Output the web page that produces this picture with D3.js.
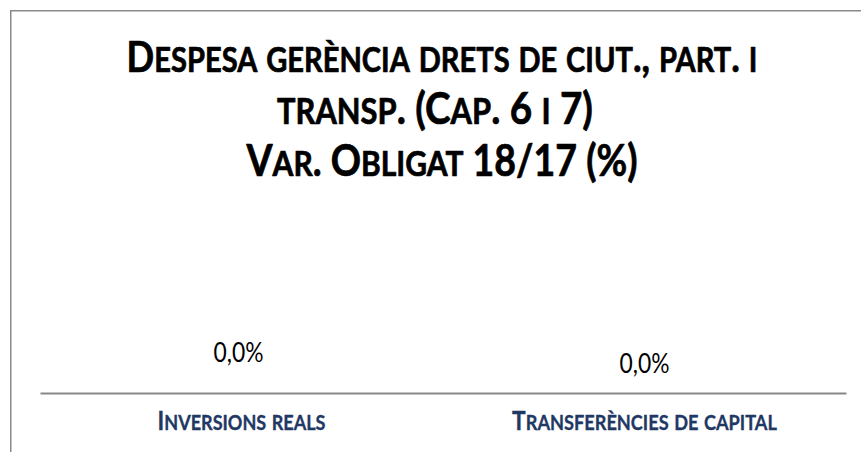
<!DOCTYPE html>
<html>
<head>
<meta charset="utf-8">
<script src="https://cdn.jsdelivr.net/npm/d3@7"></script>
<style>
  html, body { margin: 0; padding: 0; background: #ffffff; }
  svg { display: block; }
  text { font-family: Lato, "Open Sans", sans-serif; }
</style>
</head>
<body>
<svg id="chart" width="861" height="452"></svg>
<script>
// Chart content
const titleLines = [
  "Despesa gerència drets de ciut., part. i",
  "transp. (Cap. 6 i 7)",
  "Var. Obligat 18/17 (%)"
];
const categories = ["Inversions reals", "Transferències de capital"];
const values = [0.0, 0.0];            // variation obligat 18/17, in %
const valueLabels = ["0,0%", "0,0%"];

// Layout
const plot = { left: 40, right: 846, top: 200, bottom: 393 };
const stretch = 1.15;                 // vertical stretch for the narrow humanist look
const svg = d3.select("#chart");

// Outer chart frame (continues past the visible area on right and bottom)
svg.append("rect")
  .attr("x", 10.75).attr("y", 10.75)
  .attr("width", 900).attr("height", 600)
  .attr("fill", "#ffffff")
  .attr("stroke", "#8a8a8a")
  .attr("stroke-width", 1.5);

// Writes a string as small caps: capitals and symbols at full size,
// lowercase letters as reduced-size capitals.
function smallCaps(textSel, str, size, ratio) {
  textSel.selectAll("tspan").remove();
  const runs = [];
  for (const ch of str) {
    const small = ch !== ch.toUpperCase();
    const last = runs[runs.length - 1];
    if (last && last.small === small) last.s += ch;
    else runs.push({ small, s: ch });
  }
  runs.forEach(r => {
    textSel.append("tspan")
      .attr("font-size", r.small ? size * ratio : size)
      .text(r.small ? r.s.toUpperCase() : r.s);
  });
}

// Sizes a small-caps text so that it spans the given width
function fitSmallCaps(textSel, str, width, ratio) {
  let size = 20;
  smallCaps(textSel, str, size, ratio);
  const w = textSel.node().getComputedTextLength();
  size = size * width / w;
  smallCaps(textSel, str, size, ratio);
  return size;
}

// Text group anchored at (cx, baseline), stretched vertically
function anchoredText(cx, base) {
  return svg.append("g")
    .attr("transform", `translate(${cx},${base}) scale(1,${stretch})`)
    .append("text")
    .attr("text-anchor", "middle");
}

// Title
const titleSpec = [
  { cx: 442, base: 72, width: 631 },
  { cx: 435, base: 124, width: 316 },
  { cx: 442, base: 176, width: 391 }
];
titleLines.forEach((line, i) => {
  const t = anchoredText(titleSpec[i].cx, titleSpec[i].base)
    .attr("font-weight", 700)
    .attr("fill", "#000000")
    .attr("stroke", "#000000")
    .attr("stroke-width", 0.6)
    .attr("stroke-linejoin", "round");
  fitSmallCaps(t, line, titleSpec[i].width, 0.8);
});

// Scales
const x = d3.scaleBand()
  .domain(categories)
  .range([plot.left, plot.right])
  .paddingInner(0)
  .paddingOuter(0);

const y = d3.scaleLinear()
  .domain([0, 1])
  .range([plot.bottom, plot.top]);

// Bars (zero height at 0%)
svg.append("g").selectAll("rect")
  .data(categories)
  .join("rect")
  .attr("x", d => x(d) + x.bandwidth() * 0.2)
  .attr("width", x.bandwidth() * 0.6)
  .attr("y", (d, i) => Math.min(y(values[i]), y(0)))
  .attr("height", (d, i) => Math.abs(y(values[i]) - y(0)))
  .attr("fill", "#1f3864");

// Category axis
const axis = svg.append("g")
  .attr("transform", `translate(0,${y(0)})`)
  .call(d3.axisBottom(x).tickSize(0).tickSizeOuter(0).tickFormat(""));
axis.select(".domain")
  .attr("stroke", "#878787")
  .attr("stroke-width", 2);
axis.selectAll(".tick text").remove();

const catWidths = [168, 265];
categories.forEach((c, i) => {
  const t = anchoredText(x(c) + x.bandwidth() / 2, 430)
    .attr("font-weight", 700)
    .attr("fill", "#1f3864")
    .attr("stroke", "#1f3864")
    .attr("stroke-width", 0.3)
    .attr("stroke-linejoin", "round");
  fitSmallCaps(t, c, catWidths[i], 0.8);
});

// Value labels
const labelLift = [31, 20];
const labelShift = [-3, 0];
categories.forEach((c, i) => {
  const t = anchoredText(x(c) + x.bandwidth() / 2 + labelShift[i], y(values[i]) - labelLift[i])
    .attr("font-size", 20)
    .attr("fill", "#000000")
    .text(valueLabels[i]);
  const w = t.node().getComputedTextLength();
  t.attr("font-size", 20 * 50 / w);
});
</script>
</body>
</html>
